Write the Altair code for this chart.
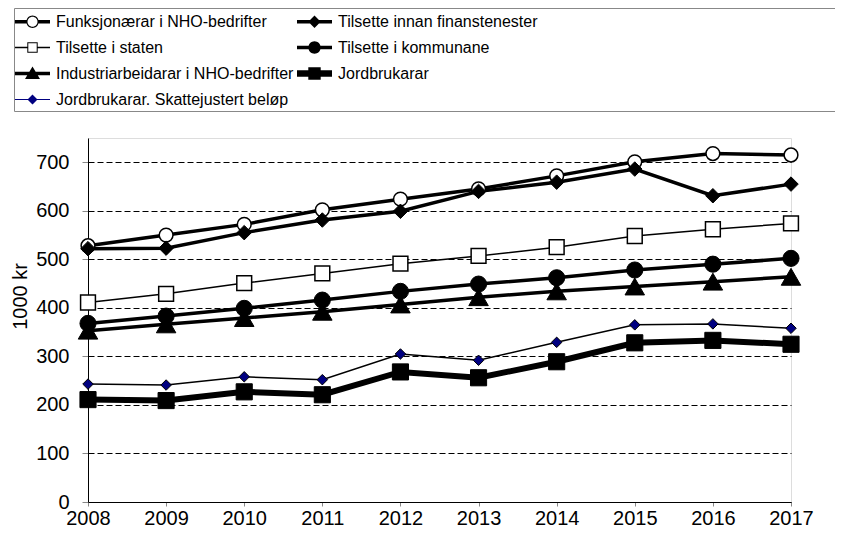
import math
import altair as alt
import pandas as pd

years = [2008, 2009, 2010, 2011, 2012, 2013, 2014, 2015, 2016, 2017]
series = [
    "Funksjonærar i NHO-bedrifter",
    "Tilsette innan finanstenester",
    "Tilsette i staten",
    "Tilsette i kommunane",
    "Industriarbeidarar i NHO-bedrifter",
    "Jordbrukarar",
    "Jordbrukarar. Skattejustert beløp",
]
funksjonaerar = [528, 550, 572, 602, 624, 645, 672, 701, 718, 715]
finans = [522, 523, 555, 581, 599, 640, 659, 686, 631, 655]
staten = [411, 429, 451, 471, 491, 507, 525, 548, 562, 574]
kommunane = [368, 383, 399, 416, 434, 449, 462, 478, 490, 502]
industri = [353, 366, 379, 392, 407, 422, 434, 444, 454, 464]
jordbrukarar = [211, 209, 227, 221, 268, 256, 289, 328, 333, 325]
skattejustert = [243, 241, 258, 252, 305, 292, 329, 365, 367, 358]
all_values = [funksjonaerar, finans, staten, kommunane, industri, jordbrukarar, skattejustert]

y_ticks = [0, 100, 200, 300, 400, 500, 600, 700]

# styles
line_widths = [3.5, 3.5, 1.5, 3.5, 3.5, 6, 1.5]
marker_shapes = ["circle", "diamond", "square", "circle", "triangle-up", "square", "diamond"]
marker_fills = ["white", "black", "white", "black", "black", "black", "#000080"]
marker_sizes = [190, 210, 220, 260, 380, 260, 110]
marker_strokes = [1.5, 1, 1.5, 1, 1, 1, 1]
legend_fills = ["black", "black", "black", "black", "black", "black", "#000080"]

FONT = "Liberation Sans"
LEGEND_FONT = "Liberation Sans"

# ---- legend symbol paths (unit square scaled by sqrt(size)/2) ----
def rect(x1, x2, h):
    return f"M{x1:.3f},{-h:.3f}L{x2:.3f},{-h:.3f}L{x2:.3f},{h:.3f}L{x1:.3f},{h:.3f}Z"

def poly(pts):
    return "M" + "L".join(f"{x:.3f},{y:.3f}" for x, y in pts) + "Z"

def circ(r, cw=True, n=32):
    pts = [(r * math.cos(2 * math.pi * k / n), r * math.sin(2 * math.pi * k / n)) for k in range(n)]
    if not cw:
        pts = pts[::-1]
    return poly(pts)

def sq(a, cw=True):
    pts = [(-a, -a), (a, -a), (a, a), (-a, a)]
    if not cw:
        pts = pts[::-1]
    return poly(pts)

def diam(a):
    return poly([(0, -a), (a, 0), (0, a), (-a, 0)])

L = 1.75
legend_paths = [
    rect(-L, -0.6, 0.17) + rect(0.6, L, 0.17) + circ(0.62) + circ(0.5, cw=False),
    rect(-L, L, 0.17) + diam(0.62),
    rect(-L, -0.5, 0.07) + rect(0.5, L, 0.07) + sq(0.52) + sq(0.42, cw=False),
    rect(-L, L, 0.17) + circ(0.62),
    rect(-L, L, 0.17) + poly([(0, -0.7), (0.75, 0.55), (-0.75, 0.55)]),
    rect(-L, L, 0.32) + sq(0.62),
    rect(-L, -0.45, 0.06) + rect(0.45, L, 0.06) + diam(0.5),
]

rows = []
for s, vals in zip(series, all_values):
    for yr, v in zip(years, vals):
        rows.append({"year": yr, "series": s, "value": v})
df = pd.DataFrame(rows)

x_enc = alt.X(
    "year:Q",
    scale=alt.Scale(domain=[2008, 2017], nice=False, zero=False),
    axis=alt.Axis(
        values=years, format="d", title=None, grid=False,
        labelFontSize=20, labelFont=FONT, labelColor="black",
        tickSize=4, labelPadding=2, domainColor="black", tickColor="#888888",
        labelFlush=False,
    ),
)
y_enc = alt.Y(
    "value:Q",
    scale=alt.Scale(domain=[0, 750], nice=False),
    axis=alt.Axis(
        values=y_ticks, title="1000 kr", grid=True, gridColor="black",
        gridDash=[6, 3], gridWidth=1.2,
        labelFontSize=20, labelFont=FONT, labelColor="black",
        tickSize=6, labelPadding=13, domainColor="black", tickColor="#888888",
        titleFont=FONT, titleFontSize=20, titleFontWeight="normal", titleColor="black",
        titleX=-68, titleY=158, titleAngle=270, titleAlign="center", titleBaseline="middle",
    ),
)

base = alt.Chart(df)
layers = []
for i, s in enumerate(series):
    layers.append(
        base.transform_filter(alt.datum.series == s)
        .mark_line(color="black", strokeWidth=line_widths[i])
        .encode(x=x_enc, y=y_enc)
    )
for i, s in enumerate(series):
    layers.append(
        base.transform_filter(alt.datum.series == s)
        .mark_point(
            shape=marker_shapes[i], filled=True, fill=marker_fills[i],
            stroke="black", strokeWidth=marker_strokes[i], size=marker_sizes[i], opacity=1,
        )
        .encode(x=x_enc, y=y_enc)
    )

# blank (Braille-blank, non-whitespace) title to the right widens the legend frame
blank = "\u2800" * 24
leg = alt.Legend(
    title=blank, titleOrient="right", titleLimit=3000, titleFontSize=16,
    titleFont="DejaVu Sans", titlePadding=0, titleColor="white",
    orient="none", legendX=-74, legendY=-130, columns=2, direction="horizontal",
    labelFont=LEGEND_FONT, labelFontSize=16, labelColor="black", labelLimit=2000,
    symbolSize=400, symbolStrokeColor="black", symbolStrokeWidth=0.5, symbolOpacity=1,
    symbolOffset=5, labelOffset=13, columnPadding=2, rowPadding=7,
    padding=3, strokeColor="#888888", fillColor="white",
)
# legend-only layer: no rows drawn, the legend comes from the fixed scale domain
legend_layer = base.transform_filter("false").mark_point(
    filled=True, size=400, stroke="black", strokeWidth=0.5
).encode(
    x=x_enc, y=y_enc,
    shape=alt.Shape("series:N", scale=alt.Scale(domain=series, range=legend_paths), legend=leg),
    fill=alt.Fill("series:N", scale=alt.Scale(domain=series, range=legend_fills), legend=leg),
)
layers.append(legend_layer)

chart = alt.layer(*layers).properties(
    width=703, height=364,
    autosize=alt.AutoSizeParams(type="none"),
    padding={"left": 80, "top": 130, "right": 44, "bottom": 27},
).configure_view(stroke="#888888", strokeWidth=1).configure(background="white")

chart.save("out.html", embed_options={"renderer": "svg", "actions": False})
